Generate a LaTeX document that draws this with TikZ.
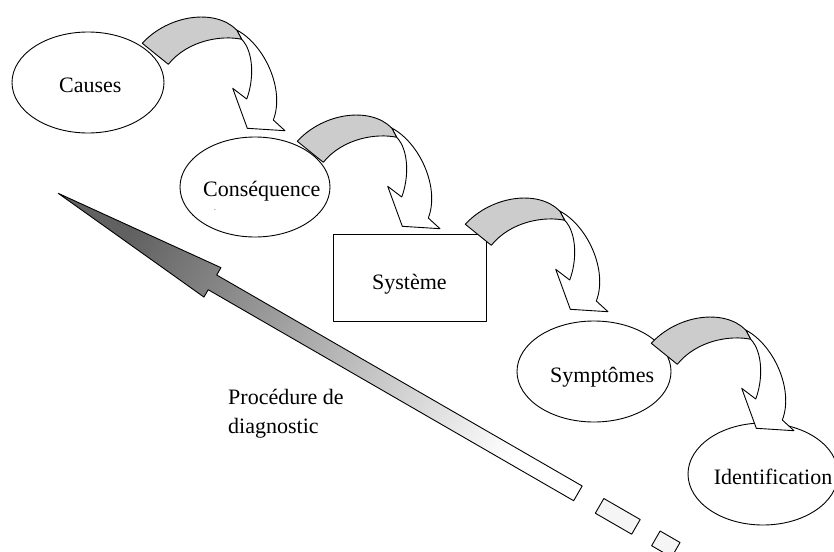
\documentclass[tikz,border=0pt]{standalone}
\usepackage{fontspec}
\setmainfont{Liberation Serif}
\usetikzlibrary{shapes.geometric}

\tikzset{
  outline/.style={draw=black, line width=0.9pt, line join=round},
  bubble/.style={ellipse, outline, fill=white, inner sep=0pt},
  boxnode/.style={rectangle, outline, fill=white, inner sep=0pt},
  caption/.style={inner sep=0pt, font=\fontsize{22}{28.5}\selectfont},
  bandback/.style={outline, fill=black!20},
  bandfront/.style={outline, fill=white},
  dashpiece/.style={outline, fill=black!4},
  % twisted block arrow: grey back face, white front face with head
  twistarrow/.pic={
    \filldraw[bandfront] (236.7,30) .. controls (265,45) and (285,90) .. (273.3,120)
      -- (285,130.7) -- (247.3,128.3) -- (232.7,88.3) -- (246.7,99)
      .. controls (254,80) and (254,52) .. (241.7,39.3) -- cycle;
    \filldraw[bandback] (142.3,43.3) .. controls (168,15) and (215,8) .. (236.7,30)
      -- (241.7,39.3) .. controls (222,35) and (188,40) .. (168.3,64.3) -- cycle;
  }
}

\begin{document}
\begin{tikzpicture}[x=1pt, y=-1pt]
  \useasboundingbox (0,0) rectangle (834,551);
  \clip (0,0) rectangle (834,551);

  % stages
  \node[bubble, minimum width=152pt, minimum height=101pt] (causes) at (88,82.5) {};
  \node[bubble, minimum width=150pt, minimum height=100pt] (consequence) at (255,187) {};
  \node[boxnode, minimum width=153pt, minimum height=87pt] (systeme) at (409.5,277.5) {};
  \node[bubble, minimum width=154pt, minimum height=101pt] (symptomes) at (594,371.5) {};
  \node[bubble, minimum width=150pt, minimum height=102pt] (identification) at (763,474) {};

  % stage labels
  \node[caption, anchor=base west] (causes-t) at (59,92.7) {Causes};
  \node[caption, anchor=base west] (consequence-t) at (203,196.5) {Conséquence};
  \node[inner sep=0pt, font=\fontsize{5}{6}\selectfont] (consequence-m) at (215,211) {-};
  \node[caption, anchor=base west] (systeme-t) at (372,289) {Système};
  \node[caption, anchor=base west] (symptomes-t) at (550,382.3) {Symptômes};
  \node[caption, anchor=base east] (identification-t) at (832.5,484) {Identification};

  \node[caption, anchor=base west, align=left] (procedure-t) at (228,433)
    {Procédure de\\diagnostic};

  % diagnostic procedure arrow, running back up the chain
  \begin{scope}[shift={(216.7,275)}, rotate=-30]
    \shade[outline, top color=black!62, bottom color=white, shading angle=60]
      (-178,8.5) -- (0,-8.5) -- (0,0) -- (422,0) -- (422,17) -- (0,17) -- (0,25.5) -- cycle;
    \filldraw[dashpiece] (447,0) rectangle (489,17);
    \filldraw[dashpiece] (512,0) rectangle (535,17);
  \end{scope}

  % links between successive stages
  \pic (link1) at (0,0) {twistarrow};
  \pic (link2) at (155,98) {twistarrow};
  \pic (link3) at (323,181) {twistarrow};
  \pic (link4) at (509,300) {twistarrow};
\end{tikzpicture}
\end{document}
